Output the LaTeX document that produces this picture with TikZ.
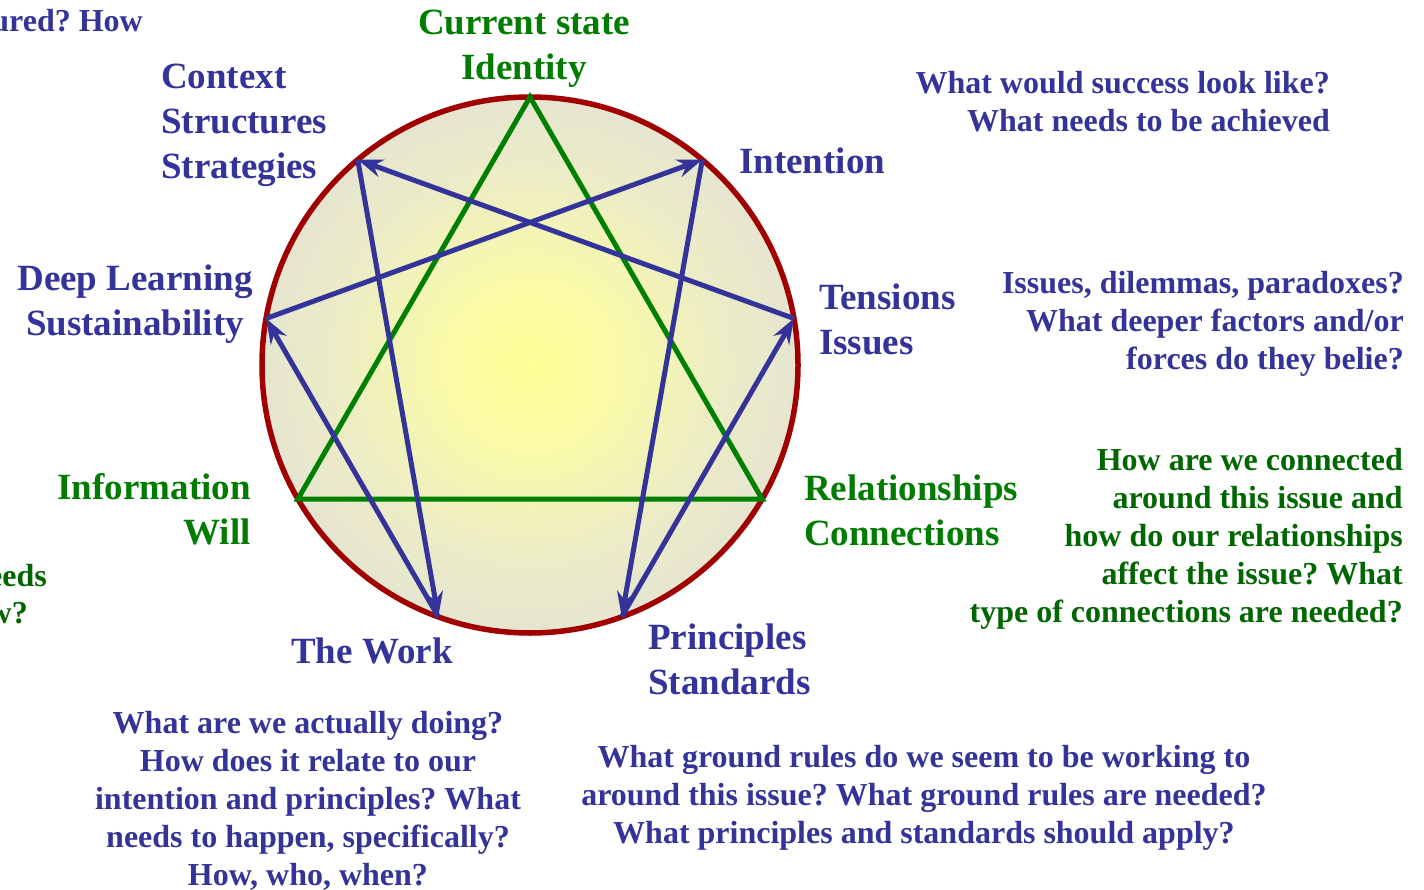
\documentclass[tikz,border=0pt]{standalone}
\usepackage{fontspec}
\setmainfont{Liberation Serif}
\frenchspacing
\usetikzlibrary{arrows.meta}
\definecolor{eblue}{RGB}{51,51,153}
\definecolor{egreen}{RGB}{0,128,0}
\definecolor{lgreen}{RGB}{0,125,0}
\definecolor{qgreen}{RGB}{0,102,0}
\definecolor{ered}{RGB}{160,0,0}
\definecolor{shA}{RGB}{255,255,150}
\definecolor{shB}{RGB}{250,250,168}
\definecolor{shC}{RGB}{236,236,198}
\definecolor{shD}{RGB}{225,225,216}
\definecolor{shE}{RGB}{222,222,222}
\pgfdeclareradialshading{ennea}{\pgfpoint{0bp}{0bp}}{color(0bp)=(shA); color(8bp)=(shB); color(18bp)=(shC); color(30bp)=(shD); color(50bp)=(shE)}
\tikzset{
  lab/.style={font=\fontsize{37}{45}\selectfont\bfseries, inner sep=0pt, text=eblue},
  qst/.style={font=\fontsize{32}{38}\selectfont\bfseries, inner sep=0pt, text=eblue},
  bluearrow/.style={draw=eblue, line width=5pt, -{Stealth[length=25pt,width=18pt]}},
  tri/.style={draw=egreen, line width=5pt, line join=miter},
}
\begin{document}
\begin{tikzpicture}[x=1pt,y=-1pt]
\useasboundingbox (0,0) rectangle (1424,890);
\clip (0,0) rectangle (1424,890);
% circle
\shade[shading=ennea] (530,365) circle[radius=268pt];
\draw[ered, line width=5.5pt] (530,365) circle[radius=268pt];
% enneagram points
\coordinate (p0) at (530,97);
\coordinate (p1) at (702.3,159.7);
\coordinate (p2) at (793.9,318.5);
\coordinate (p3) at (762.1,499);
\coordinate (p4) at (621.7,616.8);
\coordinate (p5) at (438.3,616.8);
\coordinate (p6) at (297.9,499);
\coordinate (p7) at (266.1,318.5);
\coordinate (p8) at (357.7,159.7);
% triangle
\draw[tri] (p0) -- (p3) -- (p6) -- cycle;
% hexad arrows
\draw[bluearrow] (p1) -- (p4);
\draw[bluearrow] (p4) -- (p2);
\draw[bluearrow] (p2) -- (p8);
\draw[bluearrow] (p8) -- (p5);
\draw[bluearrow] (p5) -- (p7);
\draw[bluearrow] (p7) -- (p1);
% labels (anchor base = baseline of last line)
\node[lab, text=lgreen, align=center, anchor=base] (tCur) at (524,80) {Current state\\Identity};
\node[lab, align=left, anchor=base west] (tCtx) at (161,179) {Context\\Structures\\Strategies};
\node[lab, anchor=base west] (tInt) at (739,174) {Intention};
\node[lab, align=center, anchor=base] (tDeep) at (135,336) {Deep Learning\\Sustainability};
\node[lab, align=left, anchor=base west] (tTen) at (819,355) {Tensions\\Issues};
\node[lab, text=lgreen, align=right, anchor=base east] (tInfo) at (251,544) {Information\\Will};
\node[lab, text=lgreen, align=left, anchor=base west] (tRel) at (804,545) {Relationships\\Connections};
\node[lab, anchor=base west] (tWork) at (291,663) {The Work};
\node[lab, align=left, anchor=base west] (tPrin) at (648,694) {Principles\\Standards};
% questions
\node[qst, anchor=base east] (qTL) at (143,32) {measured? How};
\node[qst, text=qgreen, anchor=base east] (qBL1) at (47,586) {needs};
\node[qst, text=qgreen, anchor=base east] (qBL2) at (28,623) {how?};
\node[qst, align=right, anchor=base east] (qSucc) at (1330,132) {What would success look like?\\What needs to be achieved};
\node[qst, align=right, anchor=base east] (qIss) at (1404,370) {Issues, dilemmas, paradoxes?\\What deeper factors and/or\\forces do they belie?};
\node[qst, text=qgreen, align=right, anchor=base east] (qRel) at (1403,622) {How are we connected\\around this issue and\\how do our relationships\\affect the issue? What\\type of connections are needed?};
\node[qst, align=center, anchor=base] (qWork) at (308,885) {What are we actually doing?\\How does it relate to our\\intention and principles? What\\needs to happen, specifically?\\How, who, when?};
\node[qst, align=center, anchor=base] (qPrin) at (924,843) {What ground rules do we seem to be working to\\around this issue? What ground rules are needed?\\What principles and standards should apply?};
\end{tikzpicture}
\end{document}
